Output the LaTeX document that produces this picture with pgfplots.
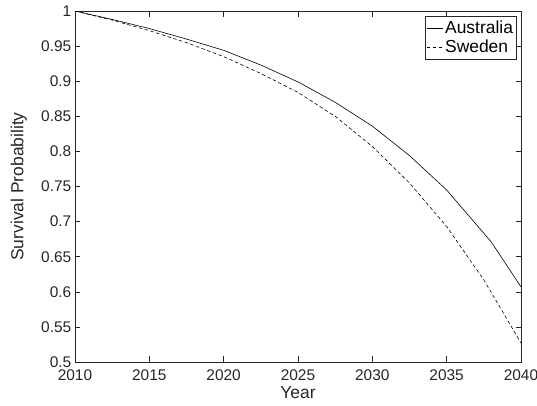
\documentclass[border=0pt]{standalone}
\usepackage{fontspec}
\setmainfont{Liberation Sans}
\usepackage{pgfplots}
\pgfplotsset{compat=1.18}
\definecolor{axgray}{gray}{0.15}
\begin{document}
\begin{tikzpicture}
\begin{axis}[
  scale only axis,
  width=446bp, height=351bp,
  xmin=2010, xmax=2040, ymin=0.5, ymax=1,
  xtick={2010,2015,...,2040},
  ytick={0.5,0.55,...,1.01},
  tick align=inside,
  major tick length=5.5bp,
  axis line style={axgray, line width=0.5pt},
  every tick/.style={axgray, line width=0.5pt},
  tick label style={font=\fontsize{15.5}{17}\selectfont, text=axgray},
  label style={font=\fontsize{17.5}{19}\selectfont, text=axgray},
  /pgf/number format/assume math mode=true,
  xticklabel style={/pgf/number format/1000 sep={}, inner sep=1bp, yshift=-7bp},
  yticklabel style={/pgf/number format/fixed, /pgf/number format/precision=2, inner sep=1bp, xshift=-2.5bp},
  xlabel={Year}, ylabel={Survival Probability},
  xlabel style={inner sep=0pt, yshift=-4bp},
  ylabel style={inner sep=0pt, yshift=13bp},
  legend style={at={(axis description cs:1,1)}, xshift=-4.3bp, yshift=-5bp, anchor=north east, draw=axgray, line width=0.5pt, font=\fontsize{17.5}{19}\selectfont, inner xsep=1.5pt, inner ysep=2.5pt, row sep=1.5bp, cells={anchor=west, inner xsep=1bp, inner ysep=1.5bp}, legend cell align=left},
  legend image code/.code={\draw[#1] (0bp,0bp) -- (16bp,0bp);},
]
\addplot[black, line width=0.6pt] coordinates {
(2010,1.000) (2012.5,0.988) (2015,0.975) (2017.5,0.960) (2020,0.944) (2022.5,0.923) (2025,0.899) (2027.5,0.870) (2030,0.836) (2032.5,0.794) (2035,0.745) (2038,0.671) (2040,0.607)};
\addlegendentry{Australia}
\addplot[black, line width=0.6pt, dash pattern=on 3.5bp off 2.5bp] coordinates {
(2010,1.000) (2012.5,0.987) (2015,0.972) (2017.5,0.955) (2020,0.935) (2022.5,0.911) (2025,0.884) (2027.5,0.850) (2030,0.807) (2032.5,0.755) (2035,0.693) (2037.5,0.617) (2040,0.527)};
\addlegendentry{Sweden}
\end{axis}
\pgfresetboundingbox
\path[use as bounding box] (-75bp,-44bp) rectangle (462bp,362bp);
\end{tikzpicture}
\end{document}
